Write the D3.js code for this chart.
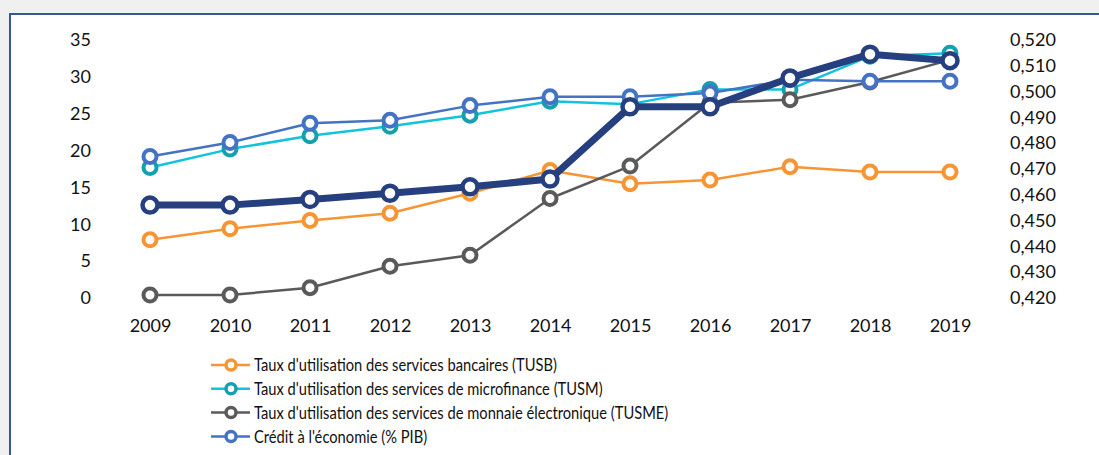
<!DOCTYPE html>
<html><head><meta charset="utf-8">
<script src="https://cdn.jsdelivr.net/npm/d3@7"></script>
<style>
html,body{margin:0;padding:0;background:#f0f0f0;}
svg{display:block;}
text{font-family:Lato,"Open Sans",sans-serif;fill:#111;}
</style></head><body>
<svg id="chart" width="1099" height="455"></svg>
<script>
const years = [2009,2010,2011,2012,2013,2014,2015,2016,2017,2018,2019];
const tusb = [7.9,9.4,10.5,11.5,14.2,17.3,15.5,16.0,17.8,17.1,17.1];
const tusm = [17.7,20.2,22.0,23.3,24.8,26.7,26.3,28.3,28.3,32.8,33.2];
const tusme = [0.4,0.4,1.4,4.3,5.8,13.5,17.9,26.5,26.9,29.3,32.3];
const credit = [19.2,21.1,23.7,24.1,26.1,27.3,27.3,27.8,29.6,29.4,29.4];
const indice = [0.456,0.456,0.4582,0.4606,0.4631,0.4661,0.4941,0.4941,0.5053,0.5145,0.5120];
const leftTicks = [0,5,10,15,20,25,30,35];
const rightTicks = [0.42,0.43,0.44,0.45,0.46,0.47,0.48,0.49,0.50,0.51,0.52];
const legendLabels = [
  "Taux d'utilisation des services bancaires (TUSB)",
  "Taux d'utilisation des services de microfinance (TUSM)",
  "Taux d'utilisation des services de monnaie électronique (TUSME)",
  "Crédit à l'économie (% PIB)"
];

const svg = d3.select("#chart");
// chart frame
svg.append("rect").attr("x",10).attr("y",14).attr("width",1200).attr("height",500)
  .attr("fill","#fff").attr("stroke","#35579a").attr("stroke-width",2);

const x = d3.scalePoint().domain(years).range([150,950]);
const yL = d3.scaleLinear().domain([0,35]).range([298,40]);
const yR = d3.scaleLinear().domain([0.42,0.52]).range([298,40]);

const fs = 18;
// left axis
const gl = svg.append("g").attr("transform","translate(91,0)")
  .call(d3.axisLeft(yL).tickValues(leftTicks).tickSize(0).tickPadding(0).tickFormat(d3.format("d")));
// right axis
const fmtR = d => d3.format(".3f")(d).replace(".",",");
const gr = svg.append("g").attr("transform","translate(1010,0)")
  .call(d3.axisRight(yR).tickValues(rightTicks).tickSize(0).tickPadding(0).tickFormat(fmtR));
// x axis
const gx = svg.append("g").attr("transform","translate(0,319)")
  .call(d3.axisBottom(x).tickSize(0).tickPadding(0).tickFormat(d3.format("d")));
[gl,gr,gx].forEach(g=>{
  g.select(".domain").remove();
  g.selectAll("text").attr("font-family","Lato, 'Open Sans', sans-serif").attr("font-size",fs).attr("fill","#111");
});

const series = [
  {vals:tusb, y:yL, line:"#f79433", mark:"#f79433", lw:2.5, r:6.5, sw:4},
  {vals:tusm, y:yL, line:"#12c3dd", mark:"#14a0ae", lw:2.5, r:6.5, sw:4},
  {vals:tusme, y:yL, line:"#5a5a5a", mark:"#5a5a5a", lw:2.5, r:6.5, sw:4},
  {vals:credit, y:yL, line:"#4472c4", mark:"#4472c4", lw:2.5, r:6.5, sw:4},
  {vals:indice, y:yR, line:"#263f7f", mark:"#263f7f", lw:7, r:7.5, sw:4.5}
];
series.forEach(s=>{
  const line = d3.line().x((d,i)=>x(years[i])).y(d=>s.y(d));
  svg.append("path").datum(s.vals).attr("d",line).attr("fill","none")
    .attr("stroke",s.line).attr("stroke-width",s.lw).attr("stroke-linejoin","round");
  svg.append("g").selectAll("circle").data(s.vals).join("circle")
    .attr("cx",(d,i)=>x(years[i])).attr("cy",d=>s.y(d)).attr("r",s.r)
    .attr("fill","#fff").attr("stroke",s.mark).attr("stroke-width",s.sw);
});

// legend
const lg = svg.append("g");
legendLabels.forEach((t,i)=>{
  const s = series[i];
  const yy = 365 + i*23.8;
  lg.append("line").attr("x1",211).attr("x2",250).attr("y1",yy).attr("y2",yy)
    .attr("stroke",s.line).attr("stroke-width",2.5);
  lg.append("circle").attr("cx",231).attr("cy",yy).attr("r",5)
    .attr("fill","#fff").attr("stroke",s.mark).attr("stroke-width",3.5);
  const tx = lg.append("text").attr("x",254).attr("y",yy).attr("dy","0.36em")
    .attr("font-size",17.5).text(t);
  const L = tx.node().getComputedTextLength();
  tx.attr("textLength",L*0.84).attr("lengthAdjust","spacingAndGlyphs");
});
</script>
</body></html>
